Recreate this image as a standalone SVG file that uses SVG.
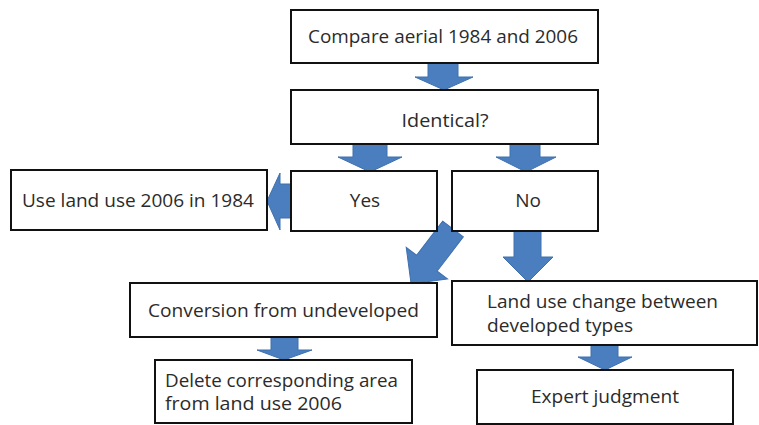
<svg xmlns="http://www.w3.org/2000/svg" width="759" height="425" viewBox="0 0 759 425">
<style>
.box{fill:#fff;stroke:#111;stroke-width:2}
.t{font-family:"Open Sans","Liberation Sans",sans-serif;font-size:19px;fill:#2b2b2b}
.s{font-size:18px}
.c{text-anchor:middle}
.arr{fill:#4a7ebf;stroke:#3f70ad;stroke-width:1}
</style>
<rect width="759" height="425" fill="#fff"/>
<g id="connectors">
<path class="arr" d="M428,63 H458 V77 H473 L444,90 L415,77 H428 Z"/>
<path class="arr" d="M353,144 H387 V157 H402 L370,172 L338,157 H353 Z"/>
<path class="arr" d="M510,144 H540 V157 H556 L526,172 L496,157 H510 Z"/>
<path class="arr" d="M291,184 V218 H280 V230 L267,201 L280,173 V184 Z"/>
<path class="arr" d="M-13,0 H13 V43 H26 L0,69 L-26,43 H-13 Z" transform="translate(453,229) rotate(37.4)"/>
<path class="arr" d="M514,231 H541 V257 H553 L528,282 L503,257 H514 Z"/>
<path class="arr" d="M271,337 H298 V350 H312 L284,360 L257,350 H271 Z"/>
<path class="arr" d="M591,345 H618 V357 H632 L605,370 L578,357 H591 Z"/>
</g>
<g id="n1"><rect class="box" x="291" y="10" width="307" height="53"/><text class="t c" x="443" y="43" textLength="270" lengthAdjust="spacingAndGlyphs">Compare aerial 1984 and 2006</text></g>
<g id="n2"><rect class="box" x="291" y="90" width="307" height="54"/><text class="t c" x="445" y="127" textLength="87" lengthAdjust="spacingAndGlyphs">Identical?</text></g>
<g id="n3"><rect class="box" x="11" y="170" width="256" height="60"/><text class="t" x="22" y="207" textLength="232" lengthAdjust="spacingAndGlyphs">Use land use 2006 in 1984</text></g>
<g id="n4"><rect class="box" x="291" y="171" width="146" height="60"/><text class="t c" x="365" y="207">Yes</text></g>
<g id="n5"><rect class="box" x="452" y="171" width="146" height="60"/><text class="t c" x="528" y="207">No</text></g>
<g id="n6"><rect class="box" x="130" y="283" width="307" height="54"/><text class="t" x="148" y="317" textLength="271" lengthAdjust="spacingAndGlyphs">Conversion from undeveloped</text></g>
<g id="n7"><rect class="box" x="452" y="281" width="305" height="64"/><text class="t s" x="487" y="308" textLength="231" lengthAdjust="spacingAndGlyphs">Land use change between</text><text class="t s" x="487" y="332" textLength="146" lengthAdjust="spacingAndGlyphs">developed types</text></g>
<g id="n8"><rect class="box" x="155" y="360" width="257" height="63"/><text class="t s" x="165" y="387" textLength="233" lengthAdjust="spacingAndGlyphs">Delete corresponding area</text><text class="t s" x="165" y="410" textLength="177" lengthAdjust="spacingAndGlyphs">from land use 2006</text></g>
<g id="n9"><rect class="box" x="477" y="370" width="256" height="54"/><text class="t c" x="605" y="403" textLength="148" lengthAdjust="spacingAndGlyphs">Expert judgment</text></g>
</svg>
